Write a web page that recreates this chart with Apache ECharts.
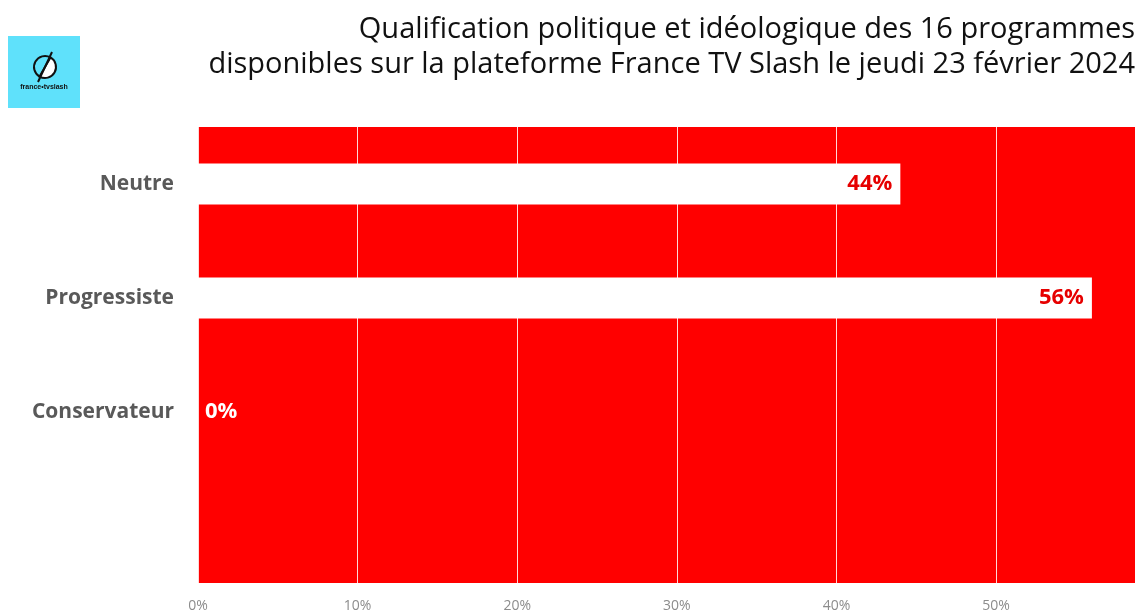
<!DOCTYPE html>
<html>
<head>
<meta charset="utf-8">
<script src="https://cdn.jsdelivr.net/npm/echarts@6/dist/echarts.min.js"></script>
<style>
  html, body { margin: 0; padding: 0; background: #fff; }
  #main { width: 1139px; height: 614px; }
</style>
</head>
<body>
<div id="main"></div>
<script>
// categories top to bottom, last one is the empty slot at the bottom
var categories = ['Neutre', 'Progressiste', 'Conservateur', ''];
var values = [44, 56, 0, null];
var tickMax = 58.7;

var titleLines = [
    'Qualification politique et idéologique des 16 programmes',
    'disponibles sur la plateforme France TV Slash le jeudi 23 février 2024'
];

var myChart = echarts.init(document.getElementById('main'));

var seriesData = values.map(function (v) {
    if (v === 0) {
        // zero bar: label sits just right of the axis, white on red
        return {
            value: v,
            label: { position: 'right', distance: 7, color: '#ffffff' }
        };
    }
    return v;
});

var titleGraphics = titleLines.map(function (line, i) {
    return {
        type: 'text',
        right: 4,
        top: 15 + i * 35,
        style: {
            text: line,
            fill: '#111111',
            fontSize: 29,
            fontFamily: 'Open Sans'
        }
    };
});

var option = {
    animation: false,
    textStyle: { fontFamily: 'Open Sans' },
    grid: {
        left: 198,
        right: 4,
        top: 127,
        bottom: 31,
        show: true,
        backgroundColor: '#ff0000',
        borderWidth: 0
    },
    xAxis: {
        type: 'value',
        min: 0,
        max: tickMax,
        interval: 10,
        axisLine: { show: false },
        axisTick: { show: false },
        splitLine: { lineStyle: { color: 'rgba(255,255,255,0.85)', width: 1 } },
        axisLabel: {
            formatter: function (v) { return v > 55 ? '' : v + '%'; },
            color: '#8c8c8c',
            fontSize: 14,
            margin: 16
        }
    },
    yAxis: {
        type: 'category',
        data: categories,
        inverse: true,
        axisLine: { show: false },
        axisTick: { show: false },
        axisLabel: {
            color: '#595959',
            fontSize: 21,
            fontWeight: 'bold',
            margin: 24,
            padding: [4, 0, 0, 0]
        }
    },
    series: [{
        type: 'bar',
        data: seriesData,
        barWidth: 41,
        itemStyle: { color: '#ffffff' },
        label: {
            show: true,
            position: 'insideRight',
            distance: 8,
            color: '#e60000',
            fontSize: 22,
            fontWeight: 'bold',
            padding: [4, 0, 0, 0],
            formatter: '{c}%'
        }
    }],
    graphic: titleGraphics.concat([
        {
            type: 'group',
            left: 8,
            top: 36,
            children: [
                { type: 'rect', shape: { x: 0, y: 0, width: 72, height: 72 }, style: { fill: '#5fe1fb' } },
                { type: 'sector', shape: { cx: 37, cy: 31, r: 11, startAngle: -Math.PI / 3, endAngle: Math.PI * 2 / 3 }, style: { fill: '#ffffff', stroke: '#111', lineWidth: 2 } },
                { type: 'arc', shape: { cx: 37, cy: 31, r: 11, startAngle: Math.PI * 2 / 3, endAngle: Math.PI * 5 / 3 }, style: { stroke: '#111', lineWidth: 2, fill: null } },
                { type: 'line', shape: { x1: 44, y1: 16, x2: 30, y2: 46 }, style: { stroke: '#111', lineWidth: 2 } },
                { type: 'text', x: 36, y: 48, style: { text: 'france•tvslash', align: 'center', fontSize: 7, fontWeight: 'bold', fill: '#111' } }
            ]
        }
    ])
};

myChart.setOption(option);
</script>
</body>
</html>
